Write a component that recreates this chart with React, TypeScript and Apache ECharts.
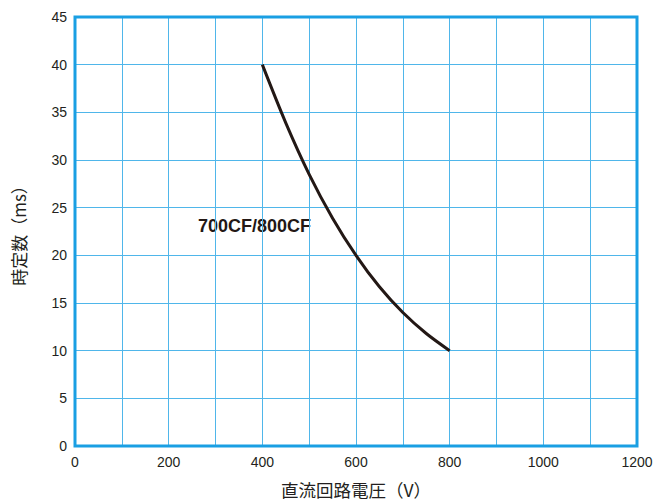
import React, { useEffect, useRef } from "react";
import * as echarts from "echarts";

const voltage = [400, 450, 500, 550, 600, 650, 700, 750, 800];
const timeConst = [40, 33.9, 28.5, 23.9, 20, 16.7, 14.0, 11.8, 10];
const seriesLabel = "700CF/800CF";
const xName = "直流回路電圧（V）";
const yName = "時定数（ms）";

export default function App() {
  const ref = useRef<HTMLDivElement>(null);
  useEffect(() => {
    const chart = echarts.init(ref.current!, null, { renderer: "svg" });
    const txt = "#231f20";
    const font = "Noto Sans CJK JP";
    chart.setOption({
      animation: false,
      grid: {
        left: 75,
        right: 32,
        top: 17,
        bottom: 55,
        outerBoundsMode: "none",
        containLabel: false,
        show: true,
        borderColor: "#1a9fe3",
        borderWidth: 3,
        z: 10,
      },
      xAxis: {
        type: "value",
        min: 0,
        max: 1200,
        interval: 100,
        name: xName,
        nameLocation: "middle",
        nameGap: 35,
        nameTextStyle: { color: txt, fontSize: 17.5, fontFamily: font },
        axisLine: { show: false },
        axisTick: { show: false },
        axisLabel: {
          color: txt,
          fontSize: 14,
          fontFamily: "Liberation Sans",
          margin: 9,
          formatter: (v: number) => (v % 200 === 0 ? String(v) : ""),
        },
        splitLine: { show: true, lineStyle: { color: "#4fb6ea", width: 1 } },
      },
      yAxis: {
        type: "value",
        min: 0,
        max: 45,
        interval: 5,
        name: yName,
        nameLocation: "middle",
        nameRotate: 90,
        nameGap: 48,
        nameTextStyle: { color: txt, fontSize: 17, fontFamily: font },
        axisLine: { show: false },
        axisTick: { show: false },
        axisLabel: { color: txt, fontSize: 14, fontFamily: "Liberation Sans", margin: 8 },
        splitLine: { show: true, lineStyle: { color: "#4fb6ea", width: 1 } },
      },
      series: [
        {
          type: "line",
          name: seriesLabel,
          data: voltage.map((v, i) => [v, timeConst[i]]),
          smooth: 0.3,
          showSymbol: false,
          lineStyle: { color: "#231815", width: 3 },
          z: 20,
        },
      ],
      graphic: [
        {
          type: "text",
          left: 198,
          top: 217,
          style: {
            text: seriesLabel,
            fill: "#231815",
            font: "bold 18px 'Liberation Sans'",
          },
        },
      ],
    });
    return () => chart.dispose();
  }, []);
  return <div ref={ref} style={{ width: 669, height: 501, position: "absolute", left: 0, top: 0 }} />;
}
